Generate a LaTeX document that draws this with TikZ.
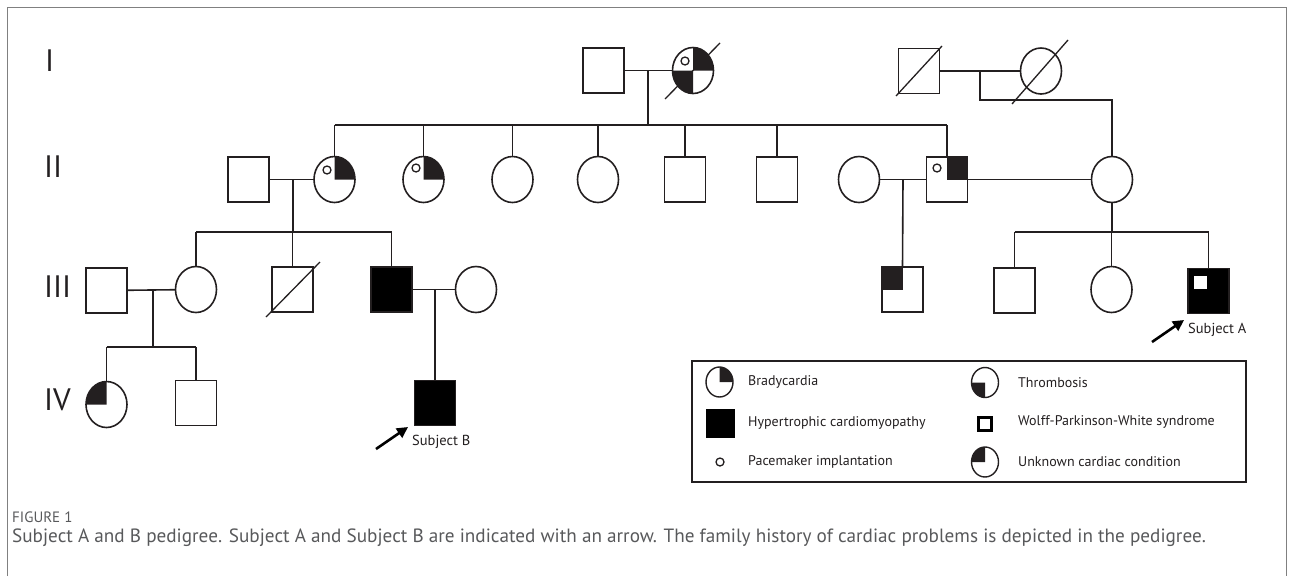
\documentclass[tikz,border=0pt]{standalone}
\usepackage{fontspec}
\setmainfont{PT Sans}
\usetikzlibrary{shapes.geometric,arrows.meta,backgrounds}
\definecolor{lc}{HTML}{231F20}
\definecolor{capc}{HTML}{58595B}
\definecolor{framec}{HTML}{808080}
\begin{document}
\begin{tikzpicture}[x=1pt,y=-1pt,
  pl/.style={draw=lc, line width=1.6pt},
  male/.style={pl, rectangle, minimum width=41pt, minimum height=45pt, inner sep=0pt, outer sep=0pt},
  female/.style={pl, ellipse, minimum width=41pt, minimum height=46pt, inner sep=0pt, outer sep=0pt},
  hcm/.style={male, fill=black},
  pace/.style={pl, line width=1.3pt, circle, minimum size=8pt, inner sep=0pt},
  slash/.style={draw=lc, line width=1.3pt},
  qf/.style={fill=lc},
  genlab/.style={anchor=west, font=\fontsize{31}{31}\selectfont, text=lc, inner sep=0pt},
  legtext/.style={anchor=west, font=\fontsize{14}{16}\selectfont, text=lc, inner sep=0pt},
  subtext/.style={anchor=west, font=\fontsize{14.5}{16}\selectfont, text=lc, inner sep=0pt},
  subarr/.style={draw=black, line width=2.6pt, -{Triangle[length=11pt,width=11pt]}},
  lcirc/.style={pl, line width=1.4pt, ellipse, minimum width=27pt, minimum height=30pt, inner sep=0pt, outer sep=0pt}
]
\useasboundingbox (0,0) rectangle (1293,576);
% frame
\draw[framec, line width=1pt] (7,576) -- (7,7) -- (1286,7) -- (1286,576);

% generation labels
\node[genlab] (gI) at (45,61) {I};
\node[genlab] (gII) at (44,167) {II};
\node[genlab] (gIII) at (44,287) {III};
\node[genlab] (gIV) at (44,400) {IV};

% ---------- Generation I
\node[male] (I1) at (603.5,70.5) {};
\node[female] (I2) at (693,70.5) {};
\node[male] (I3) at (919,71) {};
\node[female] (I4) at (1041,71) {};
\draw[pl] (I1) -- (I2);
\draw[pl] (I3) -- (I4);
\node[pace] (pI2) at (685,61) {};
\coordinate (sl1a) at (665,99); \coordinate (sl1b) at (720,43);
\draw[slash] (sl1a) -- (sl1b);
\coordinate (sl3a) at (896,96); \coordinate (sl3b) at (942,46);
\draw[slash] (sl3a) -- (sl3b);
\coordinate (sl4a) at (1012,104); \coordinate (sl4b) at (1068,40);
\draw[slash] (sl4a) -- (sl4b);

% ---------- Generation II
\node[male] (II1) at (248.5,179.5) {};
\node[female] (II2) at (334.5,179.5) {};
\node[female] (II3) at (423.5,179.5) {};
\node[female] (II4) at (512.5,179.5) {};
\node[female] (II5) at (598,179.5) {};
\node[male] (II6) at (685,179.5) {};
\node[male] (II7) at (777,179.5) {};
\node[female] (II8) at (859,179.5) {};
\node[male] (II9) at (947,179.5) {};
\node[female] (II10) at (1112,179.5) {};
\node[pace] (pII2) at (327,170) {};
\node[pace] (pII3) at (416,168) {};
\node[pace] (pII9) at (937,168) {};

% descent from I1 x I2
\coordinate (dI) at (648,70.5);
\coordinate (sII) at (648,125);
\draw[pl] (dI) -- (sII);
\draw[pl] (II2.north |- sII) -- (II9.north |- sII);
\foreach \n in {II2,II3,II4,II5,II6,II7,II9} \draw[pl] (\n.north |- sII) -- (\n.north);
% descent from I3 x I4
\coordinate (dI34) at (980,71);
\coordinate (kI34) at (980,100);
\draw[pl] (dI34) -- (kI34) -- (II10.north |- kI34) -- (II10.north);

% marriages II
\draw[pl] (II1) -- (II2);
\draw[pl] (II8) -- (II9);
\draw[pl] (II9) -- (II10);

% ---------- Generation III
\node[male] (III1) at (106.5,290.5) {};
\node[female] (III2) at (196,289.5) {};
\node[male] (III3) at (292.5,289.5) {};
\node[hcm] (III4) at (391.5,289.5) {};
\node[female] (III5) at (476,289.5) {};
\node[male] (III6) at (902.5,289.5) {};
\node[male] (III7) at (1014.5,290.5) {};
\node[female] (III8) at (1111.5,289.5) {};
\node[hcm] (III9) at (1208.5,291) {};
\node[draw=none, fill=white, minimum size=13pt, inner sep=0pt] (wpwA) at (1200.5,282.5) {};
\coordinate (sl5a) at (266,317); \coordinate (sl5b) at (320,262);
\draw[slash] (sl5a) -- (sl5b);

% descent II1 x II2
\coordinate (dII12) at (293,179.5);
\coordinate (sIIIL) at (293,232);
\draw[pl] (dII12) -- (sIIIL);
\draw[pl] (III2.north |- sIIIL) -- (III4.north |- sIIIL);
\foreach \n in {III2,III3,III4} \draw[pl] (\n.north |- sIIIL) -- (\n.north);
% descent II8 x II9
\coordinate (dII89) at (903,179.5);
\draw[pl] (dII89) -- (III6.north);
% descent II10
\coordinate (sIIIR) at (1112,232);
\draw[pl] (II10.south) -- (sIIIR);
\draw[pl] (III7.north |- sIIIR) -- (III9.north |- sIIIR);
\foreach \n in {III7,III8,III9} \draw[pl] (\n.north |- sIIIR) -- (\n.north);

% marriages III
\draw[pl] (III1) -- (III2);
\draw[pl] (III4) -- (III5);

% ---------- Generation IV
\node[female] (IV1) at (106.5,404.5) {};
\node[male] (IV2) at (196,403) {};
\node[hcm] (IV3) at (435,403) {};
\coordinate (dIII12) at (153,290);
\coordinate (sIV) at (153,347);
\draw[pl] (dIII12) -- (sIV);
\draw[pl] (IV1.north |- sIV) -- (IV2.north |- sIV);
\foreach \n in {IV1,IV2} \draw[pl] (\n.north |- sIV) -- (\n.north);
\coordinate (dIII45) at (435,289.5);
\draw[pl] (dIII45) -- (IV3.north);

% quadrant fills
\begin{scope}[on background layer]
  \fill[qf] (I2.center) -- (I2.north) arc[start angle=90,end angle=0,x radius=20.5pt,y radius=23pt] -- cycle;
  \fill[qf] (I2.center) -- (I2.west) arc[start angle=180,end angle=270,x radius=20.5pt,y radius=23pt] -- cycle;
  \fill[qf] (II2.center) -- (II2.north) arc[start angle=90,end angle=0,x radius=20.5pt,y radius=23pt] -- cycle;
  \fill[qf] (II3.center) -- (II3.north) arc[start angle=90,end angle=0,x radius=20.5pt,y radius=23pt] -- cycle;
  \fill[qf] (II9.center) rectangle (II9.north east);
  \fill[qf] (III6.center) rectangle (III6.north west);
  \fill[qf] (IV1.center) -- (IV1.north) arc[start angle=90,end angle=180,x radius=20.5pt,y radius=23pt] -- cycle;
\end{scope}

% subjects
\coordinate (aBs) at (376,449); \coordinate (aBe) at (408,427);
\draw[subarr] (aBs) -- (aBe);
\node[subtext] (tB) at (412,442) {Subject B};
\coordinate (aAs) at (1152,342); \coordinate (aAe) at (1184,320);
\draw[subarr] (aAs) -- (aAe);
\node[subtext] (tA) at (1188,330) {Subject A};

% ---------- Legend
\node[draw=lc, line width=1.2pt, minimum width=554pt, minimum height=121pt, inner sep=0pt, outer sep=0pt] (leg) at (969,421.5) {};
\node[lcirc] (L1) at (719.5,382) {};
\fill[qf] (L1.center) -- (L1.north) arc[start angle=90,end angle=0,x radius=13.5pt,y radius=15pt] -- cycle;
\node[legtext] (L1t) at (748,382) {Bradycardia};
\node[rectangle, fill=black, minimum width=29pt, minimum height=29pt, inner sep=0pt] (L2) at (720.5,423.5) {};
\node[legtext] (L2t) at (748,423) {Hypertrophic cardiomyopathy};
\node[pace] (L3) at (720,462) {};
\node[legtext] (L3t) at (748,462) {Pacemaker implantation};
\node[lcirc] (L4) at (985,382.5) {};
\fill[qf] (L4.center) -- (L4.west) arc[start angle=180,end angle=270,x radius=13.5pt,y radius=15pt] -- cycle;
\node[legtext] (L4t) at (1018,383) {Thrombosis};
\node[rectangle, draw=black, line width=3pt, minimum size=13pt, inner sep=0pt] (L5) at (985,424) {};
\node[legtext] (L5t) at (1018,422) {Wolff-Parkinson-White syndrome};
\node[lcirc] (L6) at (985,462) {};
\fill[qf] (L6.center) -- (L6.north) arc[start angle=90,end angle=180,x radius=13.5pt,y radius=15pt] -- cycle;
\node[legtext] (L6t) at (1018,462) {Unknown cardiac condition};

% caption
\node[anchor=west, inner sep=0pt, text=capc, font=\fontsize{15}{17}\selectfont] (fig) at (12,517) {FIGURE 1};
\node[anchor=west, inner sep=0pt, text=capc, font=\fontsize{19.2}{22}\selectfont] (cap) at (12,538) {Subject A and B pedigree. Subject A and Subject B are indicated with an arrow. The family history of cardiac problems is depicted in the pedigree.};
\end{tikzpicture}
\end{document}
